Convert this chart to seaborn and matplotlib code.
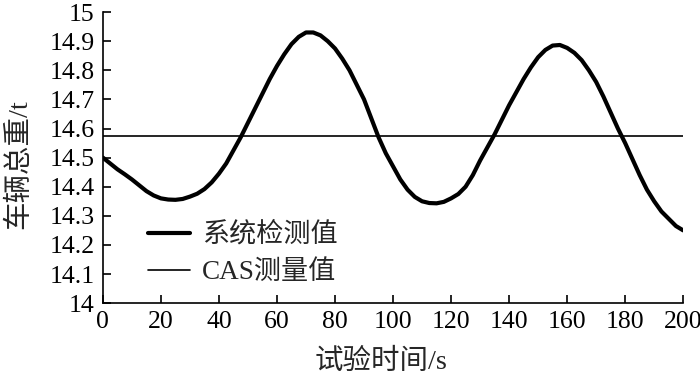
import numpy as np
import pandas as pd
import matplotlib
matplotlib.use("Agg")
import matplotlib.pyplot as plt
import seaborn as sns

# values (every 2.5 s)
time_s = [0, 2.5, 5, 7.5, 10, 12.5, 15, 17.5, 20, 22.5, 25, 27.5, 30, 32.5, 35, 37.5, 40, 42.5,
          45, 47.5, 50, 52.5, 55, 57.5, 60, 62.5, 65, 67.5, 70, 72.5, 75, 77.5, 80, 82.5, 85,
          87.5, 90, 92.5, 95, 97.5, 100, 102.5, 105, 107.5, 110, 112.5, 115, 117.5, 120, 122.5,
          125, 127.5, 130, 132.5, 135, 137.5, 140, 142.5, 145, 147.5, 150, 152.5, 155, 157.5,
          160, 162.5, 165, 167.5, 170, 172.5, 175, 177.5, 180, 182.5, 185, 187.5, 190, 192.5,
          195, 197.5, 200]
system_weight = [14.50, 14.48, 14.46, 14.443, 14.425, 14.405, 14.385, 14.37, 14.36, 14.356,
                 14.355, 14.358, 14.366, 14.376, 14.392, 14.415, 14.445, 14.48, 14.525, 14.57,
                 14.62, 14.67, 14.72, 14.77, 14.815, 14.855, 14.89, 14.915, 14.93, 14.93,
                 14.92, 14.90, 14.875, 14.84, 14.80, 14.75, 14.70, 14.635, 14.57, 14.515,
                 14.47, 14.425, 14.39, 14.365, 14.35, 14.344, 14.343, 14.348, 14.36, 14.375,
                 14.40, 14.44, 14.49, 14.535, 14.58, 14.63, 14.68, 14.725, 14.77, 14.81,
                 14.845, 14.87, 14.885, 14.887, 14.877, 14.86, 14.835, 14.80, 14.76, 14.71,
                 14.655, 14.60, 14.55, 14.495, 14.44, 14.39, 14.35, 14.315, 14.29, 14.265,
                 14.25]
cas_weight = 14.575
x_ticks = [0, 20, 40, 60, 80, 100, 120, 140, 160, 180, 200]
y_ticks = [14, 14.1, 14.2, 14.3, 14.4, 14.5, 14.6, 14.7, 14.8, 14.9, 15]
y_tick_labels = ["14", "14.1", "14.2", "14.3", "14.4", "14.5", "14.6", "14.7", "14.8", "14.9", "15"]

df = pd.DataFrame({"t": time_s, "w": system_weight})
cas_df = pd.DataFrame({"t": [time_s[0], time_s[-1]], "w": [cas_weight, cas_weight]})

sns.set_style("ticks")
plt.rcParams["font.family"] = ["Liberation Serif", "Noto Sans CJK SC"]
plt.rcParams["axes.unicode_minus"] = False

fig = plt.figure(figsize=(7, 3.78), dpi=100)
ax = fig.add_axes([0.147, 0.198, 0.829, 0.77])

sns.lineplot(data=df, x="t", y="w", ax=ax, color="black", linewidth=3.0, label="系统检测值")
sns.lineplot(data=cas_df, x="t", y="w", ax=ax, color="black", linewidth=1.2, label="CAS测量值")

ax.set_xlim(0, 200)
ax.set_ylim(14, 15)
ax.set_xticks(x_ticks)
ax.set_yticks(y_ticks)
ax.set_yticklabels(y_tick_labels)
ax.tick_params(direction="in", length=6, width=1.2, labelsize=18.5, colors="black", pad=6)
for s in ["top", "right"]:
    ax.spines[s].set_visible(False)
for s in ["left", "bottom"]:
    ax.spines[s].set_linewidth(1.2)
    ax.spines[s].set_color("black")

ax.set_xlabel("试验时间/s", fontsize=20.5)
ax.set_ylabel("车辆总重/t", fontsize=20.5)
ax.xaxis.set_label_coords(0.479, -0.158)
ax.yaxis.set_label_coords(-0.122, 0.478)

leg = ax.legend(loc="lower left", bbox_to_anchor=(0.035, -0.022), frameon=False, fontsize=19.5,
                handlelength=1.55, handletextpad=0.45, labelspacing=0.45)

fig.savefig("out.png", dpi=100)
